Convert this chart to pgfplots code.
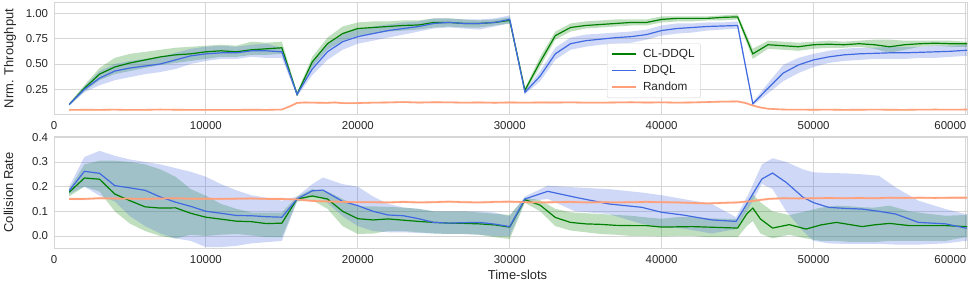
\documentclass[border=0pt]{standalone}
\usepackage{fontspec}
\setmainfont{Liberation Sans}
\usepackage{pgfplots}
\pgfplotsset{compat=1.18}
\usepackage{pgfplotstable}
\usepgfplotslibrary{fillbetween}
\definecolor{cg}{HTML}{008000}
\definecolor{cb}{HTML}{4169E1}
\definecolor{cr}{HTML}{FFA07A}
\definecolor{cgrid}{HTML}{D6D6D6}
\definecolor{ctxt}{HTML}{262626}

% ---------- Top panel: normalised throughput ----------
\pgfplotstableread{
x m lo hi
1000 0.10 0.09 0.11
2000 0.26 0.23 0.29
3000 0.40 0.34 0.46
4000 0.47 0.40 0.56
5000 0.51 0.43 0.60
6000 0.54 0.46 0.62
7000 0.57 0.49 0.64
8000 0.59 0.51 0.66
9000 0.60 0.53 0.67
10000 0.62 0.55 0.68
11000 0.63 0.57 0.69
12000 0.62 0.57 0.68
13000 0.64 0.59 0.72
14000 0.65 0.59 0.71
15000 0.66 0.60 0.72
16000 0.20 0.18 0.22
17000 0.52 0.47 0.57
18000 0.70 0.64 0.76
19000 0.80 0.73 0.87
20000 0.85 0.78 0.91
21000 0.86 0.80 0.92
22000 0.87 0.82 0.92
23000 0.88 0.83 0.93
24000 0.885 0.84 0.93
25000 0.91 0.86 0.95
26000 0.91 0.87 0.95
27000 0.90 0.86 0.94
28000 0.90 0.86 0.93
29000 0.91 0.88 0.94
30000 0.93 0.90 0.96
31000 0.24 0.22 0.26
32000 0.52 0.47 0.57
33000 0.78 0.74 0.82
34000 0.86 0.82 0.90
35000 0.88 0.85 0.92
36000 0.89 0.86 0.93
37000 0.90 0.87 0.94
38000 0.91 0.88 0.94
39000 0.91 0.88 0.94
40000 0.94 0.91 0.97
41000 0.95 0.92 0.97
42000 0.95 0.92 0.97
43000 0.95 0.93 0.97
44000 0.96 0.93 0.98
45000 0.965 0.94 0.99
46000 0.60 0.55 0.65
47000 0.69 0.65 0.73
48000 0.68 0.64 0.72
49000 0.67 0.63 0.71
50000 0.69 0.65 0.72
51000 0.695 0.66 0.73
52000 0.69 0.66 0.72
53000 0.70 0.67 0.73
54000 0.69 0.65 0.74
55000 0.67 0.61 0.74
56000 0.69 0.64 0.73
57000 0.70 0.67 0.73
58000 0.705 0.68 0.73
59000 0.70 0.67 0.73
60000 0.70 0.67 0.72
61000 0.70 0.67 0.72
}\tTg

\pgfplotstableread{
x m lo hi
1000 0.10 0.09 0.11
2000 0.25 0.22 0.28
3000 0.36 0.29 0.43
4000 0.43 0.34 0.50
5000 0.46 0.37 0.53
6000 0.48 0.40 0.55
7000 0.50 0.42 0.57
8000 0.54 0.45 0.61
9000 0.58 0.50 0.65
10000 0.60 0.53 0.67
11000 0.61 0.55 0.68
12000 0.61 0.55 0.67
13000 0.63 0.57 0.69
14000 0.63 0.56 0.70
15000 0.62 0.56 0.66
16000 0.20 0.18 0.22
17000 0.45 0.39 0.52
18000 0.62 0.54 0.69
19000 0.72 0.64 0.79
20000 0.77 0.70 0.84
21000 0.80 0.73 0.87
22000 0.83 0.76 0.89
23000 0.85 0.79 0.91
24000 0.87 0.82 0.92
25000 0.90 0.85 0.95
26000 0.91 0.86 0.95
27000 0.90 0.85 0.94
28000 0.90 0.84 0.94
29000 0.91 0.87 0.95
30000 0.94 0.90 0.98
31000 0.22 0.20 0.24
32000 0.38 0.33 0.43
33000 0.60 0.54 0.66
34000 0.70 0.64 0.76
35000 0.73 0.67 0.79
36000 0.745 0.69 0.80
37000 0.76 0.70 0.81
38000 0.77 0.71 0.82
39000 0.79 0.74 0.84
40000 0.83 0.78 0.88
41000 0.85 0.80 0.90
42000 0.86 0.81 0.90
43000 0.87 0.83 0.91
44000 0.875 0.84 0.91
45000 0.88 0.85 0.92
46000 0.107 0.09 0.12
47000 0.26 0.21 0.31
48000 0.41 0.33 0.49
49000 0.49 0.41 0.56
50000 0.54 0.47 0.60
51000 0.57 0.51 0.63
52000 0.59 0.53 0.65
53000 0.60 0.54 0.66
54000 0.605 0.55 0.66
55000 0.61 0.55 0.67
56000 0.61 0.55 0.67
57000 0.615 0.56 0.67
58000 0.62 0.56 0.68
59000 0.625 0.57 0.68
60000 0.635 0.58 0.69
61000 0.64 0.59 0.69
}\tTb

\pgfplotstableread{
x m lo hi
1000 0.046 0.038 0.054
2000 0.048 0.040 0.056
3000 0.047 0.039 0.055
4000 0.049 0.041 0.057
5000 0.046 0.038 0.054
6000 0.047 0.039 0.055
7000 0.050 0.042 0.058
8000 0.048 0.040 0.056
9000 0.047 0.039 0.055
10000 0.046 0.038 0.054
11000 0.047 0.039 0.055
12000 0.047 0.039 0.055
13000 0.048 0.040 0.056
14000 0.047 0.039 0.055
15000 0.050 0.042 0.058
15500 0.080 0.070 0.090
16000 0.115 0.105 0.125
16500 0.120 0.110 0.130
17000 0.118 0.108 0.128
18000 0.116 0.106 0.126
18500 0.120 0.110 0.130
19000 0.113 0.103 0.123
20000 0.114 0.104 0.124
21000 0.118 0.108 0.128
22000 0.120 0.110 0.130
23000 0.124 0.114 0.134
24000 0.119 0.109 0.129
25000 0.122 0.112 0.132
26000 0.121 0.111 0.131
27000 0.118 0.108 0.128
28000 0.120 0.110 0.130
29000 0.117 0.107 0.127
30000 0.120 0.110 0.130
31000 0.118 0.108 0.128
32000 0.120 0.110 0.130
33000 0.119 0.109 0.129
34000 0.121 0.111 0.131
35000 0.118 0.108 0.128
36000 0.118 0.108 0.128
37000 0.120 0.110 0.130
38000 0.122 0.112 0.132
39000 0.119 0.109 0.129
40000 0.121 0.111 0.131
41000 0.118 0.108 0.128
42000 0.120 0.110 0.130
43000 0.124 0.114 0.134
44000 0.128 0.118 0.138
45000 0.130 0.120 0.140
45500 0.115 0.105 0.125
46000 0.090 0.080 0.100
46500 0.070 0.061 0.079
47000 0.058 0.050 0.066
48000 0.050 0.042 0.058
49000 0.049 0.041 0.057
50000 0.048 0.040 0.056
51000 0.049 0.041 0.057
52000 0.047 0.039 0.055
53000 0.048 0.040 0.056
54000 0.049 0.041 0.057
55000 0.048 0.040 0.056
56000 0.047 0.039 0.055
57000 0.049 0.041 0.057
58000 0.050 0.042 0.058
59000 0.049 0.041 0.057
60000 0.050 0.042 0.058
61000 0.050 0.042 0.058
}\tTr

% ---------- Bottom panel: collision rate ----------
\pgfplotstableread{
x m lo hi
1000 0.177 0.16 0.19
2000 0.235 0.20 0.29
3000 0.23 0.18 0.305
4000 0.17 0.10 0.305
5000 0.143 0.05 0.30
6000 0.118 0.02 0.29
7000 0.113 0.0 0.27
8000 0.114 -0.01 0.24
9000 0.092 0.005 0.19
10000 0.076 0.0 0.163
11000 0.068 0.005 0.13
12000 0.060 0.008 0.11
13000 0.058 0.002 0.095
14000 0.050 -0.005 0.095
15000 0.052 -0.005 0.095
16000 0.150 0.14 0.16
17000 0.162 0.145 0.19
18000 0.150 0.11 0.18
19000 0.10 0.04 0.15
20000 0.070 0.008 0.12
21000 0.065 0.01 0.12
22000 0.069 0.02 0.118
23000 0.064 0.02 0.115
24000 0.059 0.015 0.11
25000 0.055 0.01 0.10
26000 0.052 0.008 0.10
27000 0.051 0.008 0.10
28000 0.049 0.005 0.095
29000 0.045 -0.005 0.09
30000 0.036 -0.012 0.085
31000 0.147 0.135 0.155
32000 0.125 0.10 0.145
33000 0.075 0.04 0.11
34000 0.055 0.022 0.096
35000 0.049 0.015 0.092
36000 0.047 0.008 0.089
37000 0.043 0.005 0.085
38000 0.042 0.0 0.082
39000 0.042 0.0 0.075
40000 0.036 -0.002 0.07
41000 0.037 0.0 0.076
42000 0.038 0.0 0.076
43000 0.036 -0.005 0.072
44000 0.034 -0.005 0.07
45000 0.032 -0.005 0.069
45600 0.089 0.04 0.13
46000 0.113 0.06 0.17
46500 0.069 0.01 0.136
47300 0.032 -0.01 0.10
48400 0.046 0.005 0.085
49500 0.028 -0.01 0.10
50500 0.045 -0.02 0.115
51500 0.055 -0.02 0.123
52500 0.045 -0.025 0.12
53200 0.038 -0.025 0.116
54000 0.045 -0.025 0.115
55000 0.051 -0.02 0.123
56300 0.042 -0.02 0.10
57500 0.042 -0.02 0.09
58700 0.042 -0.02 0.082
60000 0.038 -0.005 0.085
61000 0.036 -0.005 0.085
}\tBg

\pgfplotstableread{
x m lo hi
1000 0.183 0.17 0.20
2000 0.262 0.20 0.32
3000 0.254 0.163 0.345
4000 0.204 0.14 0.325
5000 0.195 0.08 0.31
6000 0.185 0.04 0.30
7000 0.158 0.01 0.29
8000 0.137 -0.01 0.275
9000 0.12 -0.02 0.26
10000 0.100 -0.045 0.24
11000 0.092 -0.045 0.21
12000 0.083 -0.04 0.185
13000 0.082 -0.03 0.165
14000 0.078 -0.025 0.155
15000 0.076 -0.02 0.143
16000 0.150 0.14 0.16
17000 0.183 0.16 0.21
17700 0.186 0.15 0.237
19000 0.14 0.08 0.21
20000 0.123 0.04 0.20
21000 0.100 0.02 0.16
22000 0.085 0.015 0.13
23000 0.082 0.015 0.115
24000 0.07 0.012 0.11
25000 0.055 0.01 0.10
26000 0.052 0.008 0.10
27000 0.054 0.008 0.10
28000 0.055 0.005 0.10
29000 0.048 0.0 0.095
30000 0.038 0.0 0.08
31000 0.150 0.14 0.16
32500 0.181 0.15 0.204
34300 0.157 0.10 0.197
36500 0.130 0.089 0.19
38700 0.116 0.049 0.176
40000 0.096 0.036 0.165
41400 0.085 0.03 0.15
43300 0.065 0.01 0.13
44900 0.059 0.028 0.076
45800 0.150 0.12 0.18
46600 0.231 0.211 0.29
47300 0.255 0.19 0.315
48200 0.217 0.10 0.30
49300 0.157 0.02 0.27
50000 0.135 -0.02 0.258
51000 0.116 -0.03 0.255
52000 0.112 -0.032 0.254
53200 0.109 -0.032 0.25
54300 0.100 -0.032 0.244
55400 0.089 -0.035 0.197
56900 0.055 -0.035 0.143
58700 0.049 -0.03 0.109
60000 0.032 -0.02 0.089
61000 0.030 -0.02 0.089
}\tBb

\pgfplotstableread{
x m lo hi
1000 0.150 0.145 0.155
2000 0.150 0.145 0.155
3000 0.153 0.148 0.158
4000 0.152 0.147 0.157
5000 0.151 0.146 0.156
6000 0.150 0.145 0.155
7000 0.152 0.147 0.157
8000 0.153 0.148 0.158
9000 0.151 0.146 0.156
10000 0.151 0.146 0.156
11000 0.150 0.145 0.155
12000 0.151 0.146 0.156
13000 0.152 0.147 0.157
14000 0.150 0.145 0.155
15000 0.150 0.145 0.155
16000 0.148 0.143 0.153
17000 0.142 0.137 0.147
18000 0.140 0.135 0.145
19000 0.138 0.133 0.143
20000 0.137 0.132 0.142
21000 0.137 0.132 0.142
22000 0.136 0.131 0.141
23000 0.138 0.133 0.143
24000 0.136 0.131 0.141
25000 0.137 0.132 0.142
26000 0.139 0.134 0.144
27000 0.137 0.132 0.142
28000 0.136 0.131 0.141
29000 0.138 0.133 0.143
30000 0.139 0.134 0.144
31000 0.137 0.132 0.142
32000 0.136 0.131 0.141
33000 0.137 0.132 0.142
34000 0.138 0.133 0.143
35000 0.136 0.131 0.141
36000 0.137 0.132 0.142
37000 0.136 0.131 0.141
38000 0.137 0.132 0.142
39000 0.138 0.133 0.143
40000 0.137 0.132 0.142
41000 0.136 0.131 0.141
42000 0.134 0.129 0.139
43000 0.132 0.127 0.137
44000 0.134 0.129 0.139
45000 0.136 0.131 0.141
46000 0.142 0.137 0.147
47000 0.150 0.145 0.155
48000 0.153 0.148 0.158
49000 0.152 0.147 0.157
50000 0.153 0.148 0.158
51000 0.154 0.149 0.159
52000 0.153 0.148 0.158
53000 0.154 0.149 0.159
54000 0.153 0.148 0.158
55000 0.155 0.150 0.160
56000 0.154 0.149 0.159
57000 0.155 0.150 0.160
58000 0.154 0.149 0.159
59000 0.155 0.150 0.160
60000 0.155 0.150 0.160
61000 0.155 0.150 0.160
}\tBr

\pgfplotsset{
  myax/.style={
    scale only axis, width=913bp, height=111.6bp,
    xmin=0, xmax=60100,
    axis line style={cgrid, line width=1bp},
    grid=major, major grid style={cgrid, line width=0.9bp},
    major tick length=0pt, tick style={draw=none},
    xtick={0,10000,20000,30000,40000,50000},
    extra x ticks={60000},
    extra x tick style={grid=major, xticklabel style={anchor=base east, xshift=1bp}},
    scaled ticks=false,
    /pgf/number format/assume math mode=true,
    tick label style={font=\fontsize{11.5}{13}\selectfont, text=ctxt},
    xticklabel style={anchor=base, yshift=-15.5bp, inner sep=0pt,
      /pgf/number format/fixed, /pgf/number format/set thousands separator={}},
    yticklabel style={anchor=east, xshift=-5.7bp, inner sep=0pt},
    label style={font=\fontsize{13}{15}\selectfont, text=ctxt},
  }
}

\begin{document}
\begin{tikzpicture}

\begin{axis}[myax, at={(54bp,167.7bp)}, anchor=south west,
  ymin=0.003, ymax=1.105, ytick={0.25,0.5,0.75,1},
  yticklabel style={/pgf/number format/fixed, /pgf/number format/fixed zerofill, /pgf/number format/precision=2},
  ylabel={Nrm. Throughput},
  ylabel style={at={(axis description cs:-0.0482,0.5)}, anchor=center},
  legend style={at={(axis description cs:0.6057,0.636)}, anchor=north west,
    draw=cgrid, rounded corners=2bp, fill=white, fill opacity=0.8, text opacity=1,
    font=\fontsize{11.8}{13}\selectfont, text=ctxt,
    inner xsep=4bp, inner ysep=3.5bp, row sep=3bp,
    /tikz/every odd column/.append style={column sep=4bp}},
  legend cell align=left,
  legend image code/.code={\draw[#1, line width=1.8bp] (0bp,0bp) -- (24bp,0bp);},
]
\addplot[draw=none, name path=tgu, forget plot] table[x=x,y=hi]{\tTg};
\addplot[draw=none, name path=tgl, forget plot] table[x=x,y=lo]{\tTg};
\addplot[fill=cg, fill opacity=0.25, draw=none, forget plot] fill between[of=tgu and tgl];
\addplot[draw=none, name path=tbu, forget plot] table[x=x,y=hi]{\tTb};
\addplot[draw=none, name path=tbl, forget plot] table[x=x,y=lo]{\tTb};
\addplot[fill=cb, fill opacity=0.25, draw=none, forget plot] fill between[of=tbu and tbl];
\addplot[draw=none, name path=tru, forget plot] table[x=x,y=hi]{\tTr};
\addplot[draw=none, name path=trl, forget plot] table[x=x,y=lo]{\tTr};
\addplot[fill=cr, fill opacity=0.3, draw=none, forget plot] fill between[of=tru and trl];
\addplot[cg, line width=1.2bp] table[x=x,y=m]{\tTg};
\addlegendentry{CL-DDQL}
\addplot[cb, line width=1.2bp] table[x=x,y=m]{\tTb};
\addlegendentry{DDQL}
\addplot[cr, line width=1.6bp] table[x=x,y=m]{\tTr};
\addlegendentry{Random}
\end{axis}

\begin{axis}[myax, at={(54bp,33.7bp)}, anchor=south west,
  ymin=-0.05, ymax=0.4024, ytick={0,0.1,0.2,0.3,0.4},
  yticklabel style={/pgf/number format/fixed, /pgf/number format/fixed zerofill, /pgf/number format/precision=1},
  ylabel={Collision Rate},
  ylabel style={at={(axis description cs:-0.0498,0.5)}, anchor=center},
  xlabel={Time-slots},
  xlabel style={at={(axis description cs:0.5077,-0.2796)}, anchor=base},
]
\addplot[draw=none, name path=bgu, forget plot] table[x=x,y=hi]{\tBg};
\addplot[draw=none, name path=bgl, forget plot] table[x=x,y=lo]{\tBg};
\addplot[fill=cg, fill opacity=0.25, draw=none, forget plot] fill between[of=bgu and bgl];
\addplot[draw=none, name path=bbu, forget plot] table[x=x,y=hi]{\tBb};
\addplot[draw=none, name path=bbl, forget plot] table[x=x,y=lo]{\tBb};
\addplot[fill=cb, fill opacity=0.25, draw=none, forget plot] fill between[of=bbu and bbl];
\addplot[draw=none, name path=bru, forget plot] table[x=x,y=hi]{\tBr};
\addplot[draw=none, name path=brl, forget plot] table[x=x,y=lo]{\tBr};
\addplot[fill=cr, fill opacity=0.3, draw=none, forget plot] fill between[of=bru and brl];
\addplot[cg, line width=1.2bp] table[x=x,y=m]{\tBg};
\addplot[cb, line width=1.2bp] table[x=x,y=m]{\tBb};
\addplot[cr, line width=1.6bp] table[x=x,y=m]{\tBr};
\end{axis}

\pgfresetboundingbox
\path[use as bounding box] (0,0) rectangle (969bp,282bp);
\end{tikzpicture}
\end{document}
